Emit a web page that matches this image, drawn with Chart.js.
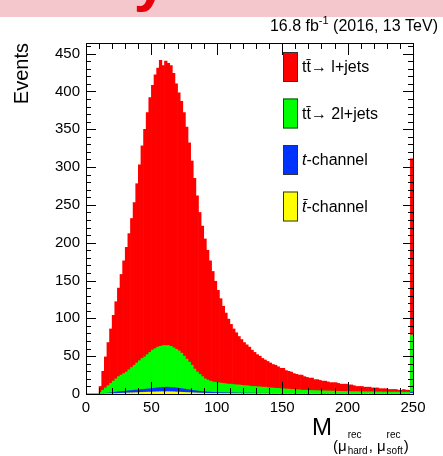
<!DOCTYPE html>
<html>
<head>
<meta charset="utf-8">
<script src="https://cdn.jsdelivr.net/npm/chart.js@4.4.1/dist/chart.umd.min.js"></script>
<style>
  html, body { margin: 0; padding: 0; background: #fff; }
  #wrap { width: 443px; height: 456px; }
</style>
</head>
<body>
<div id="wrap"><canvas id="massChart" width="443" height="456"></canvas></div>
<script>
// --- datos (alturas acumuladas del stack, bins de 2 GeV) ---
const binWidth = 2;
const binCenters = [];
for (let c = 1; c < 250; c += binWidth) binCenters.push(c);

// tt -> l+jets (tope del stack)
const ttLjets = [
  0, 0, 0, 0, 0, 10, 30, 49, 68, 86,
  104, 122, 140, 158, 176, 194, 212, 232, 253, 278,
  303, 328, 350, 372, 392, 408, 422, 431, 441, 434,
  440, 437, 434, 424, 410, 398, 387, 372, 353, 332,
  308, 285, 262, 240, 222, 205, 190, 176, 162, 149,
  137, 126, 116, 107, 99, 92, 86, 81, 76, 72,
  68, 65, 62, 58, 55, 52, 50, 47, 45, 43,
  41, 39, 38, 36, 34, 34, 31, 30, 29, 27,
  26, 25, 25, 23, 22, 21, 21, 19, 19, 18,
  17, 17, 16, 15, 15, 15, 14, 13, 13, 13,
  12, 12, 11, 10, 10, 10, 9, 9, 9, 8,
  8, 8, 7, 7, 7, 6, 6, 6, 6, 5,
  5, 6, 5, 5, 311
];
// tt -> 2l+jets
const ttDilep = [
  0, 0, 0, 0, 0, 2, 5, 8, 11, 14,
  17, 20, 23, 25, 27, 29, 32, 35, 38, 41,
  44, 47, 49, 52, 55, 58, 60, 62, 63, 64,
  64, 64, 63, 61, 59, 57, 54, 50, 46, 42,
  38, 33, 29, 26, 23, 20, 18.5, 17, 16, 15.5,
  15, 14.5, 14, 13.5, 13, 13, 12.5, 12, 12, 11.5,
  11, 11, 10.5, 10, 10, 9.5, 9.5, 9, 9, 8.5,
  8, 8, 7.5, 7.5, 7, 7, 6.5, 6.5, 6, 6,
  5.5, 5.5, 5, 5, 5, 4.8, 4.6, 4.5, 4.4, 4.3,
  4.2, 4.1, 4, 3.9, 3.8, 3.7, 3.6, 3.5, 3.4, 3.3,
  3.2, 3.1, 3, 3, 3, 2.9, 2.9, 2.8, 2.8, 2.8,
  2.7, 2.7, 2.7, 2.6, 2.6, 2.6, 2.5, 2.5, 2.5, 2.5,
  2.5, 2.4, 2.4, 2.4, 78
];
// t-channel
const tChannel = [
  0, 0, 0, 0, 0, 0.3, 0.6, 1, 1.3, 1.7,
  2, 2.5, 3, 3.3, 3.6, 4, 4.3, 4.6, 5, 5.3,
  5.6, 6, 6.3, 6.7, 7, 7.4, 7.8, 8.2, 8.5, 8.8,
  9, 9, 8.7, 8.4, 8, 7.6, 7.1, 6.6, 6.1, 5.6,
  5, 4.5, 4, 3.6, 3.2, 2.9, 2.6, 2.4, 2.2, 2,
  1.9, 1.8, 1.7, 1.6, 1.5, 1.5, 1.4, 1.4, 1.3, 1.3,
  1.2, 1.2, 1.2, 1.1, 1.1, 1.1, 1, 1, 1, 1,
  1, 0.9, 0.9, 0.9, 0.9, 0.9, 0.8, 0.8, 0.8, 0.8,
  0.8, 0.8, 0.7, 0.7, 0.7, 0.7, 0.7, 0.7, 0.7, 0.7,
  0.6, 0.6, 0.6, 0.6, 0.6, 0.6, 0.6, 0.6, 0.6, 0.6,
  0.6, 0.6, 0.6, 0.6, 0.5, 0.5, 0.5, 0.5, 0.5, 0.5,
  0.5, 0.5, 0.5, 0.5, 0.5, 0.5, 0.5, 0.5, 0.5, 0.5,
  0.5, 0.5, 0.5, 0.5, 2.5
];
// tbar-channel
const tbarChannel = [
  0, 0, 0, 0, 0, 0.1, 0.2, 0.3, 0.4, 0.5,
  0.6, 0.7, 0.9, 1, 1.1, 1.3, 1.4, 1.5, 1.6, 1.8,
  2, 2.1, 2.3, 2.4, 2.5, 2.6, 2.7, 2.8, 2.9, 3,
  3, 3, 2.9, 2.8, 2.6, 2.5, 2.3, 2.1, 1.9, 1.8,
  1.6, 1.5, 1.3, 1.2, 1.1, 1, 0.9, 0.9, 0.8, 0.8,
  0.7, 0.7, 0.6, 0.6, 0.6, 0.5, 0.5, 0.5, 0.5, 0.4,
  0.4, 0.4, 0.4, 0.4, 0.4, 0.4, 0.4, 0.4, 0.4, 0.4,
  0.3, 0.3, 0.3, 0.3, 0.3, 0.3, 0.3, 0.3, 0.3, 0.3,
  0.3, 0.3, 0.3, 0.3, 0.3, 0.3, 0.3, 0.3, 0.3, 0.3,
  0.2, 0.2, 0.2, 0.2, 0.2, 0.2, 0.2, 0.2, 0.2, 0.2,
  0.2, 0.2, 0.2, 0.2, 0.2, 0.2, 0.2, 0.2, 0.2, 0.2,
  0.2, 0.2, 0.2, 0.2, 0.2, 0.2, 0.2, 0.2, 0.2, 0.2,
  0.2, 0.2, 0.2, 0.2, 1
];

const xMin = 0, xMax = 250, xStep = 50;
const yMin = 0, yMax = 464, yStep = 50;
const FONT = '"Liberation Sans", Arial, Helvetica, sans-serif';

function toPoints(values) {
    return binCenters.map((c, i) => ({ x: c, y: values[i] }));
}

// --- decoraciones estilo ROOT: marco, ticks interiores, leyenda, textos ---
const rootStyle = {
    id: 'rootStyle',
    beforeDraw(chart) {
        const ctx = chart.ctx;
        ctx.save();
        ctx.fillStyle = '#f4c7cc';
        ctx.fillRect(0, 0, chart.width, 17);
        ctx.fillStyle = '#e8000b';
        ctx.font = 'bold 60px ' + FONT;
        ctx.textAlign = 'right';
        ctx.textBaseline = 'alphabetic';
        ctx.fillText('y', 167, 0);
        ctx.restore();
    },
    afterDatasetsDraw(chart) {
        const ctx = chart.ctx;
        const a = chart.chartArea;
        const xs = chart.scales.x, ys = chart.scales.y;
        ctx.save();
        ctx.strokeStyle = '#000';
        ctx.lineWidth = 1;
        ctx.beginPath();
        for (let v = yMin; v <= yMax; v += 10) {
            const py = Math.round(ys.getPixelForValue(v)) + 0.5;
            const len = v % yStep === 0 ? 10 : 5;
            ctx.moveTo(a.left, py); ctx.lineTo(a.left + len, py);
            ctx.moveTo(a.right, py); ctx.lineTo(a.right - len, py);
        }
        for (let u = xMin; u <= xMax; u += 10) {
            const px = Math.round(xs.getPixelForValue(u)) + 0.5;
            const len = u % xStep === 0 ? 12 : 6;
            ctx.moveTo(px, a.bottom); ctx.lineTo(px, a.bottom - len);
            ctx.moveTo(px, a.top); ctx.lineTo(px, a.top + len);
        }
        ctx.stroke();
        ctx.strokeRect(Math.round(a.left) + 0.5, Math.round(a.top) + 0.5,
            Math.round(a.right - a.left), Math.round(a.bottom - a.top));
        ctx.restore();
    },
    afterDraw(chart) {
        const ctx = chart.ctx;
        ctx.save();
        ctx.fillStyle = '#000';

        // lumi
        ctx.textBaseline = 'alphabetic';
        const big = '16px ' + FONT, small = '11px ' + FONT;
        const p1 = '16.8 fb', sup = '-1', p2 = ' (2016, 13 TeV)';
        ctx.font = big; const w1 = ctx.measureText(p1).width, w3 = ctx.measureText(p2).width;
        ctx.font = small; const w2 = ctx.measureText(sup).width;
        let x0 = 438 - (w1 + w2 + w3);
        ctx.font = big; ctx.fillText(p1, x0, 31);
        ctx.font = small; ctx.fillText(sup, x0 + w1, 24);
        ctx.font = big; ctx.fillText(p2, x0 + w1 + w2, 31);

        // eje Y
        ctx.save();
        ctx.translate(22, 43);
        ctx.rotate(-Math.PI / 2);
        ctx.textAlign = 'right';
        ctx.textBaseline = 'middle';
        ctx.font = '20px ' + FONT;
        ctx.fillText('Events', 0, 0);
        ctx.restore();

        // eje X: M_(mu^rec_hard, mu^rec_soft)
        ctx.textAlign = 'left';
        ctx.font = '24px ' + FONT;
        ctx.fillText('M', 312, 435);
        let x = 312 + ctx.measureText('M').width + 1;
        const sub = '15px ' + FONT, tiny = '10px ' + FONT;
        const pieces = [['(\u03bc', null, null], ['', 'rec', 'hard'], [', \u03bc', null, null], ['', 'rec', 'soft'], [')', null, null]];
        pieces.forEach(([t, up, dn]) => {
            if (t) { ctx.font = sub; ctx.fillText(t, x, 451); x += ctx.measureText(t).width; }
            if (up) {
                ctx.font = tiny;
                ctx.fillText(up, x + 1, 438);
                ctx.fillText(dn, x + 1, 454);
                x += Math.max(ctx.measureText(up).width, ctx.measureText(dn).width) + 2;
            }
        });

        // leyenda
        const metas = chart.data.datasets.slice().reverse();
        metas.forEach((ds, i) => {
            const top = 52 + i * 46.5;
            ctx.fillStyle = ds.backgroundColor;
            ctx.fillRect(283, top, 15, 30);
            ctx.strokeStyle = '#333';
            ctx.strokeRect(283.5, top + 0.5, 14, 29);
            ctx.fillStyle = '#000';
            ctx.textBaseline = 'middle';
            const cy = top + 16;
            let tx = 302;
            let label = ds.label;
            if (label.endsWith('-channel')) {
                const head = label.slice(0, label.indexOf('-'));
                ctx.font = 'italic 16px ' + FONT;
                ctx.fillText(head, tx, cy);
                tx += ctx.measureText(head).width;
                label = label.slice(head.length);
            }
            ctx.font = '16px ' + FONT;
            ctx.fillText(label, tx, cy);
        });
        ctx.restore();
    }
};

const barStyle = {
    grouped: false,
    barPercentage: 1,
    categoryPercentage: 1,
    borderWidth: 0
};

new Chart(document.getElementById('massChart'), {
    type: 'bar',
    data: {
        datasets: [
            { label: 't\u0304-channel', data: toPoints(tbarChannel), backgroundColor: '#ffff00', ...barStyle },
            { label: 't-channel', data: toPoints(tChannel), backgroundColor: '#0033ff', ...barStyle },
            { label: 'tt\u0304\u2192 2l+jets', data: toPoints(ttDilep), backgroundColor: '#00ff00', ...barStyle },
            { label: 'tt\u0304\u2192 l+jets', data: toPoints(ttLjets), backgroundColor: '#ff0000', ...barStyle }
        ]
    },
    options: {
        responsive: false,
        animation: false,
        layout: { padding: { left: 0, top: 43, right: 30, bottom: 0 } },
        plugins: { legend: { display: false }, tooltip: { enabled: false } },
        scales: {
            x: {
                type: 'linear',
                min: xMin, max: xMax,
                offset: false,
                grid: { display: false, drawTicks: false },
                border: { display: false },
                ticks: { stepSize: xStep, color: '#000', font: { family: FONT, size: 15 }, padding: 5, maxRotation: 0 },
                afterFit: s => { s.height = 62; }
            },
            y: {
                min: yMin, max: yMax,
                grid: { display: false, drawTicks: false },
                border: { display: false },
                ticks: { stepSize: yStep, includeBounds: false, color: '#000', font: { family: FONT, size: 15 }, padding: 6 },
                afterFit: s => { s.width = 86; }
            }
        }
    },
    plugins: [rootStyle]
});
</script>
</body>
</html>
